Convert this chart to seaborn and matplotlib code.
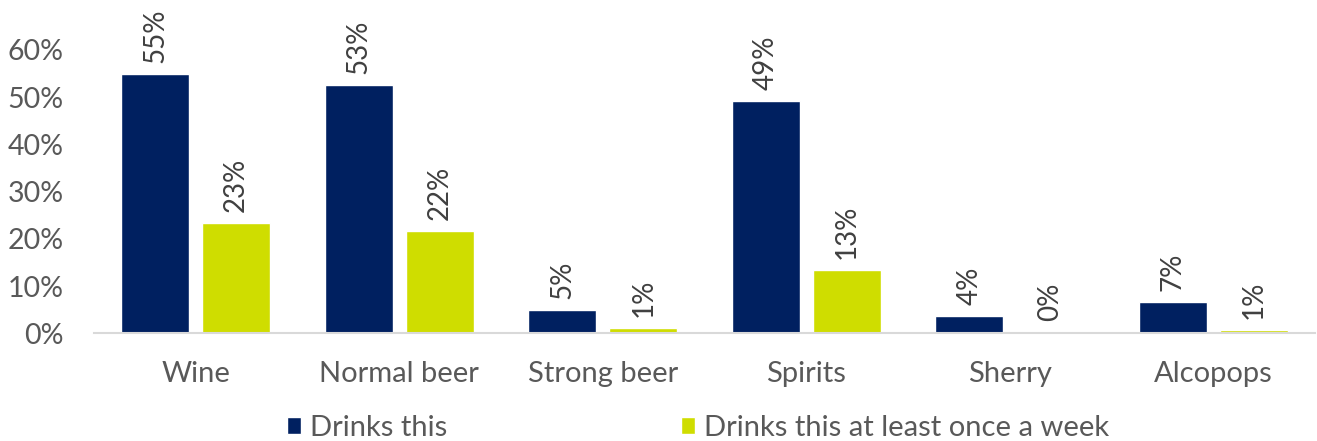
import matplotlib
matplotlib.use("Agg")
import matplotlib.pyplot as plt
import seaborn as sns
import pandas as pd
from matplotlib.ticker import PercentFormatter

categories = ["Wine", "Normal beer", "Strong beer", "Spirits", "Sherry", "Alcopops"]
series_names = ["Drinks this", "Drinks this at least once a week"]
drinks_this = [0.549, 0.526, 0.049, 0.491, 0.036, 0.066]
drinks_weekly = [0.233, 0.217, 0.012, 0.134, 0.002, 0.006]

NAVY = "#002060"
YELLOW = "#CFDD00"
TXT = "#595959"

sns.set_theme(style="white")
plt.rcParams["font.family"] = ["Lato", "DejaVu Sans"]

df = pd.DataFrame({
    "category": categories * 2,
    "value": drinks_this + drinks_weekly,
    "series": [series_names[0]] * len(categories) + [series_names[1]] * len(categories),
})

fig = plt.figure(figsize=(13.17, 4.41), dpi=100)
ax = fig.add_axes([94 / 1317, 1 - 333.3 / 441, (1315 - 94) / 1317, (333.3 - 50) / 441])

sns.barplot(data=df, x="category", y="value", hue="series", order=categories,
            hue_order=series_names, palette=[NAVY, YELLOW], width=0.796, gap=0.16,
            saturation=1, ax=ax, errorbar=None)

ax.set_ylim(0, 0.6)
ax.set_yticks([0, 0.1, 0.2, 0.3, 0.4, 0.5, 0.6])
ax.yaxis.set_major_formatter(PercentFormatter(1.0, decimals=0))
ax.set_xlabel("")
ax.set_ylabel("")
for s in ["top", "right", "left"]:
    ax.spines[s].set_visible(False)
ax.spines["bottom"].set_color("#D9D9D9")
ax.spines["bottom"].set_linewidth(1.5)
ax.tick_params(axis="y", length=0, pad=22, labelsize=20.5, labelcolor=TXT)
ax.tick_params(axis="x", length=0, pad=20, labelsize=21, labelcolor=TXT)

for cont in ax.containers:
    ax.bar_label(cont, labels=[f"{b.get_height() * 100:.0f}%" for b in cont],
                 rotation=90, padding=8, fontsize=20, color="#404040")

handles, labels = ax.get_legend_handles_labels()
if ax.get_legend() is not None:
    ax.get_legend().remove()
fig.legend(handles, labels, loc="center", bbox_to_anchor=(0.530, 0.030), ncol=2,
           frameon=False, fontsize=21, labelcolor=TXT, handlelength=0.5,
           handleheight=0.5, handletextpad=0.3, columnspacing=8.0)

fig.savefig("out.png", dpi=100)
